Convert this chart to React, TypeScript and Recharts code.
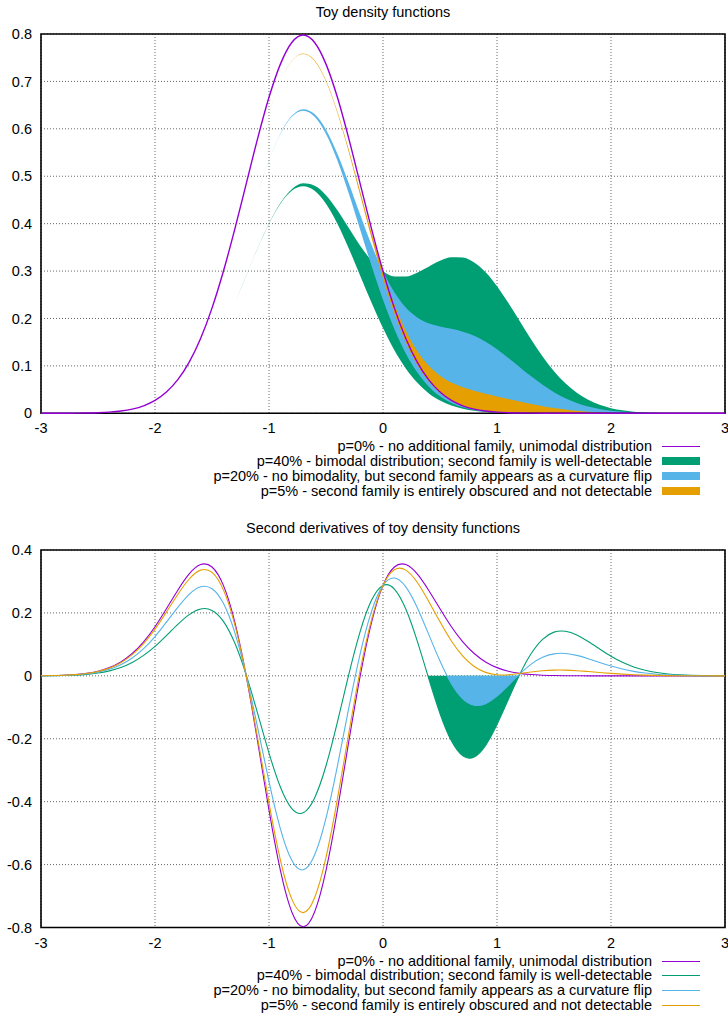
import React from 'react';
import { ComposedChart, Line, Area, XAxis, YAxis, CartesianGrid, ReferenceArea } from 'recharts';

// sampling grid (x), shared by both panels
const xs = [
  -3, -2.9, -2.8, -2.7, -2.6, -2.5, -2.4, -2.3, -2.2, -2.1,
  -2, -1.9, -1.8, -1.7, -1.6, -1.5, -1.4, -1.3, -1.2, -1.1,
  -1, -0.9, -0.8, -0.7, -0.6, -0.5, -0.4, -0.3, -0.2, -0.1,
  0, 0.1, 0.2, 0.3, 0.4, 0.5, 0.6, 0.7, 0.8, 0.9,
  1, 1.1, 1.2, 1.3, 1.4, 1.5, 1.6, 1.7, 1.8, 1.9,
  2, 2.1, 2.2, 2.3, 2.4, 2.5, 2.6, 2.7, 2.8, 2.9,
  3,
];

// top panel: densities
const dens0 = [
  0, 0.0001, 0.0001, 0.0003, 0.0006, 0.0012, 0.0025, 0.0048, 0.0089, 0.0158,
  0.0271, 0.0448, 0.0709, 0.108, 0.1579, 0.2218, 0.2995, 0.3884, 0.4839, 0.5794,
  0.6665, 0.7365, 0.7821, 0.7979, 0.7821, 0.7365, 0.6665, 0.5794, 0.4839, 0.3884,
  0.2995, 0.2218, 0.1579, 0.108, 0.0709, 0.0448, 0.0271, 0.0158, 0.0089, 0.0048,
  0.0025, 0.0012, 0.0006, 0.0003, 0.0001, 0, 0, 0, 0, 0,
  0, 0, 0, 0, 0, 0, 0, 0, 0, 0,
  0,
];
const dens40 = [
  0, 0, 0.0001, 0.0002, 0.0003, 0.0007, 0.0015, 0.0029, 0.0053, 0.0095,
  0.0163, 0.0269, 0.0425, 0.0648, 0.0947, 0.1331, 0.1797, 0.2331, 0.2906, 0.3481,
  0.4009, 0.4438, 0.4728, 0.485, 0.4801, 0.4598, 0.4283, 0.3908, 0.3535, 0.3217,
  0.2995, 0.2885, 0.2883, 0.2966, 0.3091, 0.3215, 0.3291, 0.3287, 0.3181, 0.2975,
  0.2681, 0.2325, 0.1939, 0.1556, 0.1199, 0.0887, 0.0632, 0.0432, 0.0284, 0.0179,
  0.0108, 0.0063, 0.0035, 0.0019, 0.001, 0.0005, 0.0002, 0.0001, 0, 0,
  0,
];
// first family alone, the lower edge of the p=40% band
const base40 = [
  0, 0, 0.0001, 0.0002, 0.0003, 0.0007, 0.0015, 0.0029, 0.0053, 0.0095,
  0.0163, 0.0269, 0.0425, 0.0648, 0.0947, 0.1331, 0.1797, 0.233, 0.2903, 0.3476,
  0.3999, 0.4419, 0.4693, 0.4787, 0.4693, 0.4419, 0.3999, 0.3476, 0.2903, 0.233,
  0.1797, 0.1331, 0.0947, 0.0648, 0.0425, 0.0269, 0.0163, 0.0095, 0.0053, 0.0029,
  0.0015, 0.0007, 0.0003, 0.0002, 0.0001, 0, 0, 0, 0, 0,
  0, 0, 0, 0, 0, 0, 0, 0, 0, 0,
  0,
];
const dens20 = [
  0, 0, 0.0001, 0.0002, 0.0005, 0.001, 0.002, 0.0038, 0.0071, 0.0126,
  0.0217, 0.0358, 0.0567, 0.0864, 0.1263, 0.1774, 0.2396, 0.3108, 0.3872, 0.4637,
  0.5337, 0.5902, 0.6275, 0.6415, 0.6311, 0.5982, 0.5474, 0.4851, 0.4187, 0.3551,
  0.2995, 0.2551, 0.2231, 0.2023, 0.19, 0.1831, 0.1781, 0.1722, 0.1635, 0.1511,
  0.1353, 0.1169, 0.0973, 0.0779, 0.06, 0.0444, 0.0316, 0.0216, 0.0142, 0.009,
  0.0054, 0.0032, 0.0018, 0.001, 0.0005, 0.0002, 0.0001, 0, 0, 0,
  0,
];
const base20 = [
  0, 0, 0.0001, 0.0002, 0.0005, 0.001, 0.002, 0.0038, 0.0071, 0.0126,
  0.0217, 0.0358, 0.0567, 0.0864, 0.1263, 0.1774, 0.2396, 0.3107, 0.3871, 0.4635,
  0.5332, 0.5892, 0.6257, 0.6383, 0.6257, 0.5892, 0.5332, 0.4635, 0.3871, 0.3107,
  0.2396, 0.1774, 0.1263, 0.0864, 0.0567, 0.0358, 0.0217, 0.0126, 0.0071, 0.0038,
  0.002, 0.001, 0.0005, 0.0002, 0.0001, 0, 0, 0, 0, 0,
  0, 0, 0, 0, 0, 0, 0, 0, 0, 0,
  0,
];
const dens5 = [
  0, 0, 0.0001, 0.0003, 0.0006, 0.0012, 0.0023, 0.0045, 0.0084, 0.015,
  0.0257, 0.0426, 0.0674, 0.1026, 0.15, 0.2107, 0.2845, 0.369, 0.4597, 0.5505,
  0.6333, 0.6999, 0.7434, 0.7588, 0.7444, 0.7019, 0.6367, 0.5558, 0.4676, 0.3801,
  0.2995, 0.2301, 0.1742, 0.1316, 0.1007, 0.0794, 0.0648, 0.0549, 0.0475, 0.0413,
  0.0356, 0.0302, 0.0248, 0.0197, 0.0151, 0.0111, 0.0079, 0.0054, 0.0035, 0.0022,
  0.0014, 0.0008, 0.0004, 0.0002, 0.0001, 0, 0, 0, 0, 0,
  0,
];
const base5 = [
  0, 0, 0.0001, 0.0003, 0.0006, 0.0012, 0.0023, 0.0045, 0.0084, 0.015,
  0.0257, 0.0426, 0.0674, 0.1026, 0.15, 0.2107, 0.2845, 0.369, 0.4597, 0.5504,
  0.6332, 0.6997, 0.743, 0.758, 0.743, 0.6997, 0.6332, 0.5504, 0.4597, 0.369,
  0.2845, 0.2107, 0.15, 0.1026, 0.0674, 0.0426, 0.0257, 0.015, 0.0084, 0.0045,
  0.0023, 0.0012, 0.0006, 0.0003, 0.0001, 0, 0, 0, 0, 0,
  0, 0, 0, 0, 0, 0, 0, 0, 0, 0,
  0,
];

// bottom panel: second derivatives
const curv0 = [
  0.0004, 0.0009, 0.002, 0.004, 0.0078, 0.0146, 0.0261, 0.0441, 0.0709, 0.1081,
  0.1561, 0.2132, 0.2723, 0.324, 0.3537, 0.346, 0.2875, 0.1709, 0, -0.2086,
  -0.4266, -0.6187, -0.7508, -0.7979, -0.7508, -0.6187, -0.4266, -0.2086, 0, 0.1709,
  0.2875, 0.346, 0.3537, 0.324, 0.2723, 0.2132, 0.1561, 0.1081, 0.0709, 0.0441,
  0.0261, 0.0146, 0.0078, 0.004, 0.002, 0.0009, 0.0004, 0.0002, 0, 0,
  0, 0, 0, 0, 0, 0, 0, 0, 0, 0,
  0,
];
const curv40 = [
  0.0002, 0.0005, 0.0012, 0.0024, 0.0047, 0.0088, 0.0157, 0.0265, 0.0425, 0.0649,
  0.0937, 0.1279, 0.1634, 0.1945, 0.2124, 0.208, 0.1733, 0.1041, 0.0031, -0.1194,
  -0.2456, -0.3536, -0.4221, -0.4355, -0.3881, -0.2859, -0.1471, 0.0044, 0.1415, 0.2409,
  0.2875, 0.276, 0.2122, 0.111, -0.0072, -0.1196, -0.2066, -0.2543, -0.2578, -0.221,
  -0.1549, -0.0746, 0.0047, 0.0708, 0.1162, 0.1389, 0.1417, 0.1297, 0.1089, 0.0853,
  0.0624, 0.0432, 0.0284, 0.0176, 0.0104, 0.0058, 0.0031, 0.0016, 0.0008, 0.0004,
  0.0002,
];
const curv20 = [
  0.0003, 0.0007, 0.0016, 0.0032, 0.0062, 0.0117, 0.0209, 0.0353, 0.0567, 0.0865,
  0.1249, 0.1706, 0.2178, 0.2592, 0.2831, 0.277, 0.2304, 0.1375, 0.0016, -0.164,
  -0.3361, -0.4862, -0.5864, -0.6167, -0.5694, -0.4524, -0.2868, -0.1021, 0.0707, 0.2059,
  0.2875, 0.311, 0.283, 0.2175, 0.1325, 0.0469, -0.0253, -0.0731, -0.0935, -0.0884,
  -0.0644, -0.03, 0.0062, 0.0374, 0.0591, 0.0699, 0.071, 0.065, 0.0545, 0.0426,
  0.0312, 0.0216, 0.0142, 0.0088, 0.0052, 0.0029, 0.0016, 0.0008, 0.0004, 0.0002,
  0.0001,
];
const curv5 = [
  0.0004, 0.0009, 0.0019, 0.0038, 0.0074, 0.0139, 0.0248, 0.0419, 0.0674, 0.1027,
  0.1483, 0.2025, 0.2587, 0.3078, 0.336, 0.3287, 0.2732, 0.1626, 0.0004, -0.1975,
  -0.404, -0.5856, -0.7098, -0.7526, -0.7055, -0.5771, -0.3917, -0.182, 0.0177, 0.1797,
  0.2875, 0.3372, 0.336, 0.2974, 0.2374, 0.1716, 0.1108, 0.0628, 0.0299, 0.011,
  0.0035, 0.0035, 0.0074, 0.0123, 0.0163, 0.0182, 0.0181, 0.0164, 0.0136, 0.0107,
  0.0078, 0.0054, 0.0035, 0.0022, 0.0013, 0.0007, 0.0004, 0.0002, 0.0001, 0,
  0,
];

// negative lobes of the second family, filled down from zero
const lobe40X = [0.392, 0.4, 0.5, 0.6, 0.7, 0.8, 0.9, 1, 1.1, 1.194];
const lobe40 = [0, -0.0072, -0.1196, -0.2066, -0.2543, -0.2578, -0.221, -0.1549, -0.0746, 0];
const lobe20X = [0.565, 0.6, 0.7, 0.8, 0.9, 1, 1.1, 1.183];
const lobe20 = [0, -0.0253, -0.0731, -0.0935, -0.0884, -0.0644, -0.03, 0];

const xTicks = [-3, -2, -1, 0, 1, 2, 3];
const densTicks = [0, 0.1, 0.2, 0.3, 0.4, 0.5, 0.6, 0.7, 0.8];
const curvTicks = [-0.8, -0.6, -0.4, -0.2, 0, 0.2, 0.4];

const legendLabels = [
  'p=0% - no additional family, unimodal distribution',
  'p=40% - bimodal distribution; second family is well-detectable',
  'p=20% - no bimodality, but second family appears as a curvature flip',
  'p=5% - second family is entirely obscured and not detectable',
];

const PURPLE = '#9400d3';
const GREEN = '#009e73';
const BLUE = '#56b4e9';
const ORANGE = '#e69f00';
const colors = [PURPLE, GREEN, BLUE, ORANGE];

const FONT = '"Liberation Sans", Arial, Helvetica, sans-serif';
const FS = 14.5;
const GRID = '#666';

const densityRows = xs.map((x, i) => ({
  x,
  p0: dens0[i],
  p40: [base40[i], dens40[i]],
  p20: [base20[i], dens20[i]],
  p5: [base5[i], dens5[i]],
}));

type CurvRow = {
  x: number;
  d0: number | null;
  d40: number | null;
  d20: number | null;
  d5: number | null;
  f40: number | null;
  f20: number | null;
};

function buildCurvRows(): CurvRow[] {
  const byX = new Map<string, CurvRow>();
  xs.forEach((x, i) => {
    byX.set(x.toFixed(3), { x, d0: curv0[i], d40: curv40[i], d20: curv20[i], d5: curv5[i], f40: null, f20: null });
  });
  const put = (x: number, key: 'f40' | 'f20', v: number) => {
    const k = x.toFixed(3);
    const row = byX.get(k) ?? { x, d0: null, d40: null, d20: null, d5: null, f40: null, f20: null };
    row[key] = v;
    byX.set(k, row);
  };
  lobe40X.forEach((x, i) => put(x, 'f40', lobe40[i]));
  lobe20X.forEach((x, i) => put(x, 'f20', lobe20[i]));
  return Array.from(byX.values()).sort((a, b) => a.x - b.x);
}

const curvRows = buildCurvRows();

const tickStyle = { fontSize: FS, fill: '#000', fontFamily: FONT };
const fmt = (v: number) => String(Math.round(v * 10) / 10);

function Title({ text, top }: { text: string; top: number }) {
  return (
    <div
      style={{
        position: 'absolute',
        left: 0,
        width: 766,
        top,
        textAlign: 'center',
        fontSize: FS,
        lineHeight: `${FS}px`,
        whiteSpace: 'nowrap',
      }}
    >
      {text}
    </div>
  );
}

function Key({ top, filled }: { top: number; filled: boolean[] }) {
  return (
    <>
      {legendLabels.map((label, i) => {
        const cy = Math.round(top + i * 14.9);
        return (
          <React.Fragment key={label}>
            <div
              style={{
                position: 'absolute',
                left: 0,
                width: 652,
                top: cy - 7.3,
                textAlign: 'right',
                fontSize: FS,
                lineHeight: `${FS}px`,
                whiteSpace: 'nowrap',
              }}
            >
              {label}
            </div>
            <div
              style={{
                position: 'absolute',
                left: 662,
                width: 38,
                top: filled[i] ? cy - 4 : cy,
                height: filled[i] ? 8 : 1,
                background: colors[i],
              }}
            />
          </React.Fragment>
        );
      })}
    </>
  );
}

function DensityPanel() {
  return (
    <div style={{ position: 'absolute', left: 0, top: 0 }}>
      <ComposedChart width={728} height={440} data={densityRows} margin={{ top: 34, right: 3, bottom: 0, left: 0 }}>
        <CartesianGrid stroke={GRID} strokeDasharray="1 2" />
        <XAxis
          dataKey="x"
          type="number"
          domain={[-3, 3]}
          ticks={xTicks}
          interval={0}
          height={26.7}
          tickSize={0}
          tickMargin={9}
          axisLine={false}
          tick={tickStyle}
        />
        <YAxis
          type="number"
          domain={[0, 0.8]}
          ticks={densTicks}
          interval={0}
          width={41}
          tickSize={0}
          tickMargin={9}
          axisLine={false}
          tick={tickStyle}
          tickFormatter={fmt}
        />
        <Area type="monotone" dataKey="p40" stroke="none" fill={GREEN} fillOpacity={1} isAnimationActive={false} />
        <Area type="monotone" dataKey="p20" stroke="none" fill={BLUE} fillOpacity={1} isAnimationActive={false} />
        <Area type="monotone" dataKey="p5" stroke="none" fill={ORANGE} fillOpacity={1} isAnimationActive={false} />
        <Line type="monotone" dataKey="p0" stroke={PURPLE} strokeWidth={1.4} dot={false} isAnimationActive={false} />
        <ReferenceArea x1={-3} x2={3} y1={0} y2={0.8} fill="none" fillOpacity={0} stroke="#000" strokeWidth={1.6} />
      </ComposedChart>
    </div>
  );
}

function CurvaturePanel() {
  return (
    <div style={{ position: 'absolute', left: 0, top: 500 }}>
      <ComposedChart width={728} height={460} data={curvRows} margin={{ top: 50, right: 3, bottom: 0, left: 0 }}>
        <CartesianGrid stroke={GRID} strokeDasharray="1 2" />
        <XAxis
          dataKey="x"
          type="number"
          domain={[-3, 3]}
          ticks={xTicks}
          interval={0}
          height={32.5}
          tickSize={0}
          tickMargin={10}
          axisLine={false}
          tick={tickStyle}
        />
        <YAxis
          type="number"
          domain={[-0.8, 0.4]}
          ticks={curvTicks}
          interval={0}
          width={41}
          tickSize={0}
          tickMargin={9}
          axisLine={false}
          tick={tickStyle}
          tickFormatter={fmt}
        />
        <Line type="natural" dataKey="d0" stroke={PURPLE} strokeWidth={1.1} dot={false} connectNulls isAnimationActive={false} />
        <Line type="natural" dataKey="d40" stroke={GREEN} strokeWidth={1.1} dot={false} connectNulls isAnimationActive={false} />
        <Line type="natural" dataKey="d20" stroke={BLUE} strokeWidth={1.1} dot={false} connectNulls isAnimationActive={false} />
        <Line type="natural" dataKey="d5" stroke={ORANGE} strokeWidth={1.1} dot={false} connectNulls isAnimationActive={false} />
        <Area type="natural" dataKey="f40" baseValue={0} stroke="none" fill={GREEN} fillOpacity={1} connectNulls isAnimationActive={false} />
        <Area type="natural" dataKey="f20" baseValue={0} stroke="none" fill={BLUE} fillOpacity={1} connectNulls isAnimationActive={false} />
        <ReferenceArea x1={-3} x2={3} y1={-0.8} y2={0.4} fill="none" fillOpacity={0} stroke="#000" strokeWidth={1.6} />
      </ComposedChart>
    </div>
  );
}

export default function App() {
  return (
    <div
      style={{
        position: 'absolute',
        left: 0,
        top: 0,
        width: 728,
        height: 1018,
        overflow: 'hidden',
        background: '#fff',
        fontFamily: FONT,
        color: '#000',
      }}
    >
      <Title text="Toy density functions" top={5} />
      <DensityPanel />
      <Key top={446} filled={[false, true, true, true]} />
      <Title text="Second derivatives of toy density functions" top={521} />
      <CurvaturePanel />
      <Key top={960.5} filled={[false, false, false, false]} />
    </div>
  );
}
